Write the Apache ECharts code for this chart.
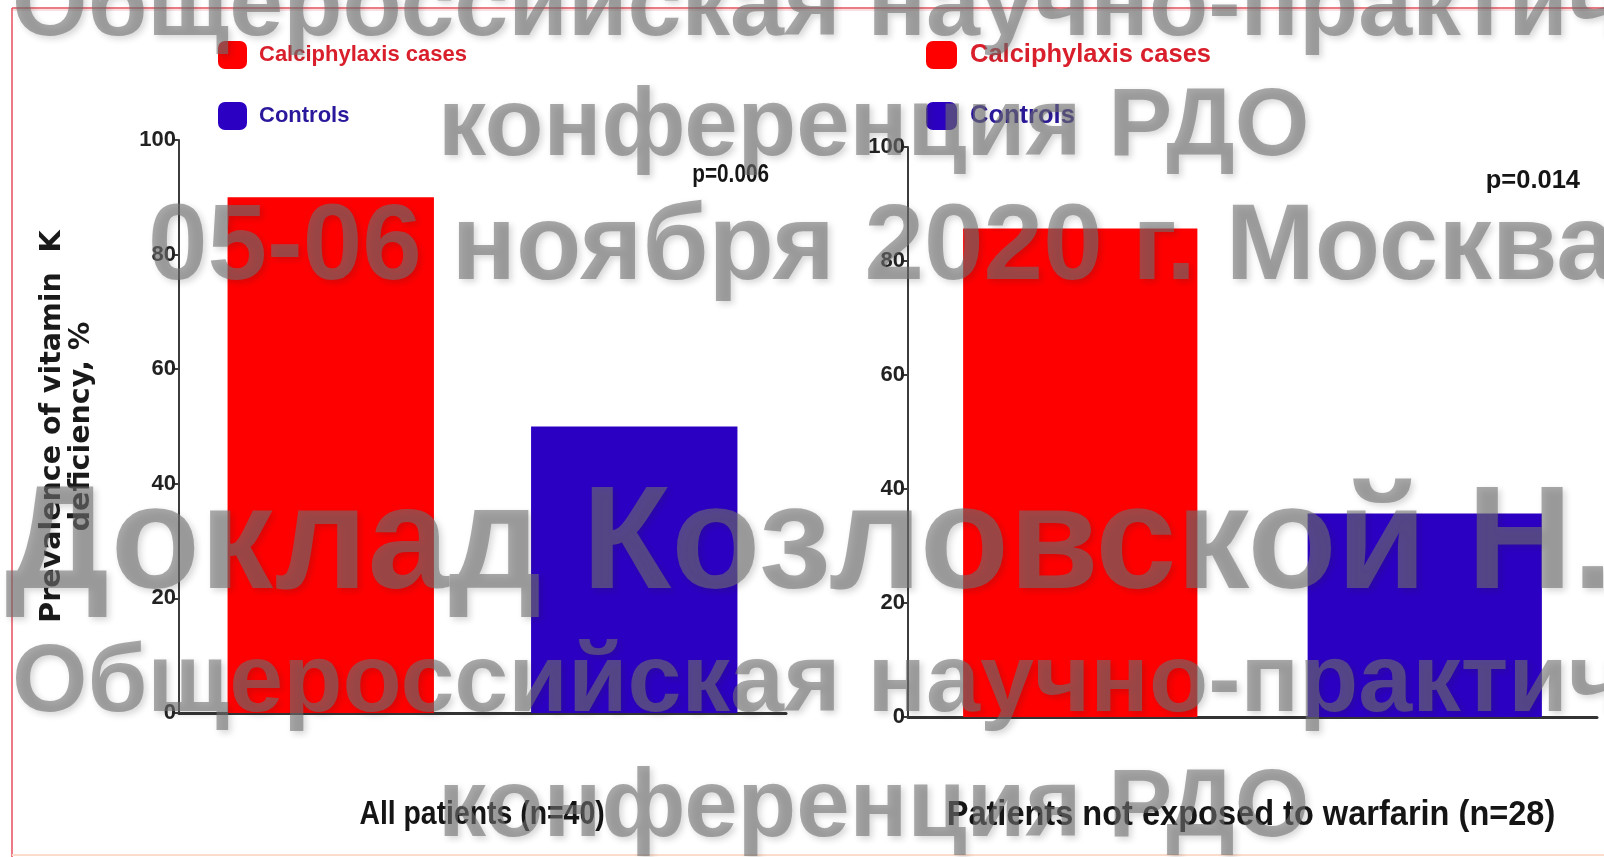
<!DOCTYPE html>
<html>
<head>
<meta charset="utf-8">
<script src="https://cdn.jsdelivr.net/npm/echarts@6/dist/echarts.min.js"></script>
<style>
html, body { margin: 0; padding: 0; background: #ffffff; }
#chart { width: 1604px; height: 857px; }
</style>
</head>
<body>
<div id="chart"></div>
<script>
// Groups compared in each panel
const groups = ['Calciphylaxis cases', 'Controls'];
// Prevalence of vitamin K deficiency, %
const allPatients = [90, 50];
const notOnWarfarin = [85.7, 35.7];
// Panel captions and p-values
const panelTitles = ['All patients (n=40)', 'Patients not exposed to warfarin (n=28)'];
const pValues = ['p=0.006', 'p=0.014'];
const yTitle = 'Prevalence of vitamin  K\ndeficiency, %';
// Conference overlay text
const overlayLines = [
  'Общероссийская научно-практическая',
  'конференция РДО',
  '05-06 ноября 2020 г. Москва',
  'Доклад Козловской Н.Л.',
  'Общероссийская научно-практическая',
  'конференция РДО'
];

const RED = '#ff0000';
const BLUE = '#2c00c2';
const SANS = "'Liberation Sans', Arial, sans-serif";

const chart = echarts.init(document.getElementById('chart'), null, { renderer: 'canvas' });

function panelSeries(values, idx) {
  return groups.map(function (g, k) {
    const data = groups.map(function (_, j) { return j === k ? values[j] : '-'; });
    return {
      name: g,
      type: 'bar',
      xAxisIndex: idx,
      yAxisIndex: idx,
      data: data,
      barWidth: '68%',
      barGap: '-100%',
      itemStyle: { color: k === 0 ? RED : BLUE },
      silent: true
    };
  });
}

function yAxisCfg(idx, withName) {
  return {
    type: 'value',
    gridIndex: idx,
    min: 0, max: 100, interval: 20,
    axisLine: { show: true, lineStyle: { color: '#3c3c3c', width: 2 } },
    axisTick: { show: true, length: 5, lineStyle: { color: '#3c3c3c', width: 2 } },
    splitLine: { show: false },
    axisLabel: { margin: 3, color: '#222222', fontFamily: SANS, fontWeight: 'bold', fontSize: 22 },
    name: withName ? yTitle : '',
    nameLocation: 'middle',
    nameRotate: 90,
    nameGap: 83,
    nameTextStyle: { color: '#1a1a1a', fontFamily: "'DejaVu Sans', sans-serif", fontWeight: 'bold', fontSize: 28.5, lineHeight: 29 }
  };
}

function xAxisCfg(idx) {
  return {
    type: 'category',
    gridIndex: idx,
    data: groups,
    axisLine: { show: true, lineStyle: { color: '#333333', width: 3 } },
    axisTick: { show: false },
    axisLabel: { show: false }
  };
}

function legendCfg(left, iconW, size, gap) {
  return {
    orient: 'vertical',
    left: left, top: 41,
    padding: 0,
    icon: 'roundRect',
    itemWidth: iconW, itemHeight: 28, itemGap: 33,
    selectedMode: false,
    textStyle: { fontFamily: SANS, fontWeight: 'bold', fontSize: size, padding: [0, 0, 0, gap] },
    data: [
      { name: groups[0], textStyle: { color: '#d91f2b' } },
      { name: groups[1], textStyle: { color: '#2a189c' } }
    ]
  };
}

// Condensed caption text anchored at (x, y)
function condensedText(t, x, y, align, size, sx) {
  return {
    type: 'text', x: x, y: y, scaleX: sx, z: 5, silent: true,
    style: {
      text: t, fontFamily: SANS, fontWeight: 'bold', fontSize: size, fill: '#151515',
      textAlign: align, textVerticalAlign: 'middle', verticalAlign: 'middle'
    }
  };
}

// overlay placement: [left x, baseline y, font size]
const overlayPos = [
  [12, 37, 97],
  [438, 157, 96],
  [148, 282, 107],
  [5, 592, 146],
  [12, 713, 97],
  [438, 838, 96]
];

const overlay = overlayLines.map(function (t, i) {
  const p = overlayPos[i];
  return {
    type: 'text',
    left: p[0],
    top: p[1] - p[2] * 0.8,
    z: 200,
    silent: true,
    style: {
      text: t,
      fontFamily: SANS,
      fontWeight: 'bold',
      fontSize: p[2],
      fill: 'rgba(112,112,112,0.6)',
      textShadowColor: 'rgba(40,40,40,0.3)',
      textShadowBlur: 6,
      textShadowOffsetX: 3,
      textShadowOffsetY: 3
    }
  };
});

const frame = [
  { type: 'line', shape: { x1: 12, y1: 8, x2: 1604, y2: 8 }, style: { stroke: '#e4505c', lineWidth: 1.5 }, z: 1, silent: true },
  { type: 'line', shape: { x1: 12, y1: 10, x2: 1604, y2: 10 }, style: { stroke: '#f6c0c4', lineWidth: 1 }, z: 1, silent: true },
  { type: 'line', shape: { x1: 12, y1: 8, x2: 12, y2: 857 }, style: { stroke: '#e4505c', lineWidth: 1.5 }, z: 1, silent: true },
  { type: 'line', shape: { x1: 12, y1: 855, x2: 1604, y2: 855 }, style: { stroke: '#fbdccb', lineWidth: 2 }, z: 1, silent: true }
];

const captions = [
  condensedText(panelTitles[0], 482, 815, 'center', 33, 0.86),
  condensedText(panelTitles[1], 1251, 815, 'center', 35, 0.93),
  condensedText(pValues[0], 769, 175, 'right', 25, 0.83),
  condensedText(pValues[1], 1580, 181, 'right', 26, 0.98)
];

chart.setOption({
  animation: false,
  backgroundColor: '#ffffff',
  grid: [
    { left: 179, top: 140, width: 607, height: 573 },
    { left: 908, top: 147, width: 689, height: 570 }
  ],
  legend: [legendCfg(218, 29, 22, 7), legendCfg(926, 31, 25.5, 8)],
  xAxis: [xAxisCfg(0), xAxisCfg(1)],
  yAxis: [yAxisCfg(0, true), yAxisCfg(1, false)],
  series: panelSeries(allPatients, 0).concat(panelSeries(notOnWarfarin, 1)),
  graphic: frame.concat(captions).concat(overlay)
});
</script>
</body>
</html>
